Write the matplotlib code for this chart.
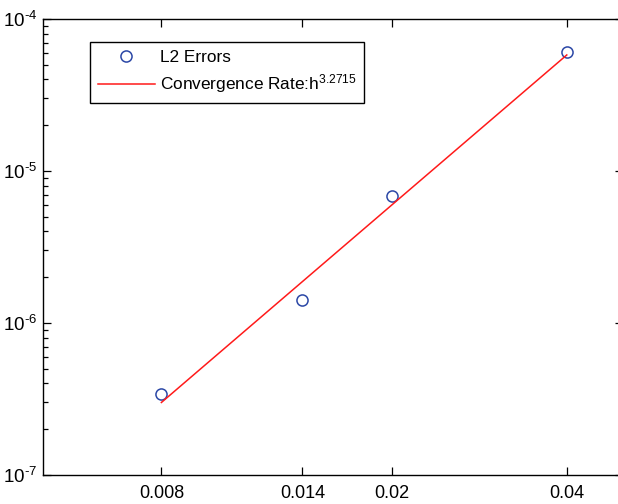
import matplotlib
matplotlib.use("Agg")
import matplotlib.pyplot as plt
from matplotlib.ticker import FixedLocator, FixedFormatter, NullLocator, LogLocator, FuncFormatter
import numpy as np

plt.rcParams['font.family'] = ['Liberation Sans', 'DejaVu Sans']
plt.rcParams['mathtext.fontset'] = 'custom'
plt.rcParams['mathtext.rm'] = 'Liberation Sans'
plt.rcParams['mathtext.it'] = 'Liberation Sans'
plt.rcParams['mathtext.bf'] = 'Liberation Sans'

# Data
h = [0.008, 0.014, 0.02, 0.04]
l2_errors = [3.41e-7, 1.42e-6, 6.85e-6, 6.04e-5]
fit_h = [0.008, 0.04]
fit_err = [3.0e-7, 5.8e-5]
rate_label = "3.2715"
xtick_vals = [0.008, 0.014, 0.02, 0.04]
xtick_labels = ["0.008", "0.014", "0.02", "0.04"]

fig = plt.figure(figsize=(6.18, 5.04), dpi=100)
ax = fig.add_axes([43/618, 29/504, 580/618, 456/504])

ax.plot(h, l2_errors, linestyle='none', marker='o', markersize=8,
        markerfacecolor='none', markeredgecolor='#2b47a6', markeredgewidth=1.1,
        label='L2 Errors')
ax.plot(fit_h, fit_err, color='#ff1a1a', linewidth=1.1,
        label='Convergence Rate:h$^{' + rate_label + '}$')

ax.set_xscale('log')
ax.set_yscale('log')
ax.set_xlim(0.005, 0.05)
ax.set_ylim(1e-7, 1e-4)

ax.xaxis.set_major_locator(FixedLocator(xtick_vals))
ax.xaxis.set_major_formatter(FixedFormatter(xtick_labels))
ax.xaxis.set_minor_locator(NullLocator())
ax.yaxis.set_major_locator(LogLocator(base=10, numticks=10))
ax.yaxis.set_minor_locator(LogLocator(base=10, subs=range(2, 10), numticks=10))


def yfmt(v, pos):
    e = int(round(np.log10(v)))
    if e < 0:
        return r'$\mathdefault{10^{\text{-}%d}}$' % (-e)
    return r'$\mathdefault{10^{%d}}$' % e


ax.yaxis.set_major_formatter(FuncFormatter(yfmt))

ax.tick_params(which='both', direction='in', top=True, right=True, width=0.9)
ax.tick_params(which='major', length=6, labelsize=13, pad=7)
ax.tick_params(which='minor', length=3.5)
ax.tick_params(axis='y', which='major', pad=4, labelsize=13.5)
for s in ax.spines.values():
    s.set_linewidth(1.0)

leg = ax.legend(loc='upper left', bbox_to_anchor=(47/580, (475-42)/456),
                borderaxespad=0, fontsize=12.4, frameon=True, fancybox=False,
                edgecolor='black', handlelength=3.3, handletextpad=0.3,
                borderpad=0.45, labelspacing=0.45, framealpha=1)
leg.get_frame().set_linewidth(1.0)

fig.savefig('out.png', dpi=100)
